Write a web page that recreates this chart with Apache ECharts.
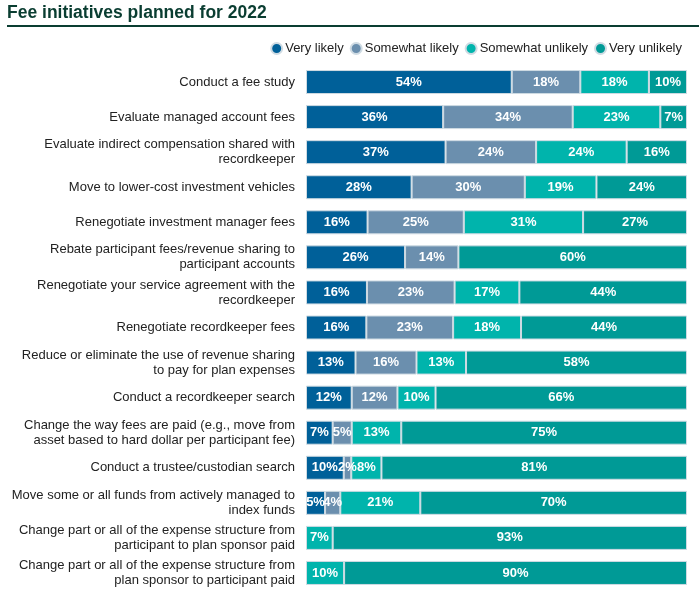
<!DOCTYPE html>
<html>
<head>
<meta charset="utf-8">
<script src="https://cdn.jsdelivr.net/npm/echarts@6/dist/echarts.min.js"></script>
<style>
html,body{margin:0;padding:0;background:#fff;}
#chart{width:699px;height:591px;}
</style>
</head>
<body>
<div id="chart"></div>
<script>
const categories = [
  "Conduct a fee study",
  "Evaluate managed account fees",
  "Evaluate indirect compensation shared with\nrecordkeeper",
  "Move to lower-cost investment vehicles",
  "Renegotiate investment manager fees",
  "Rebate participant fees/revenue sharing to\nparticipant accounts",
  "Renegotiate your service agreement with the\nrecordkeeper",
  "Renegotiate recordkeeper fees",
  "Reduce or eliminate the use of revenue sharing\nto pay for plan expenses",
  "Conduct a recordkeeper search",
  "Change the way fees are paid (e.g., move from\nasset based to hard dollar per participant fee)",
  "Conduct a trustee/custodian search",
  "Move some or all funds from actively managed to\nindex funds",
  "Change part or all of the expense structure from\nparticipant to plan sponsor paid",
  "Change part or all of the expense structure from\nplan sponsor to participant paid"
];
const seriesNames = ["Very likely", "Somewhat likely", "Somewhat unlikely", "Very unlikely"];
const veryLikely       = [54, 36, 37, 28, 16, 26, 16, 16, 13, 12, 7, 10, 5, 0, 0];
const somewhatLikely   = [18, 34, 24, 30, 25, 14, 23, 23, 16, 12, 5, 2, 4, 0, 0];
const somewhatUnlikely = [18, 23, 24, 19, 31, 0, 17, 18, 13, 10, 13, 8, 21, 7, 10];
const veryUnlikely     = [10, 7, 16, 24, 27, 60, 44, 44, 58, 66, 75, 81, 70, 93, 90];
const colors = ["#006099", "#6b8fae", "#00b4ac", "#009a96"];

const FONT = 'Liberation Sans, Arial, sans-serif';
const raw = [veryLikely, somewhatLikely, somewhatUnlikely, veryUnlikely];
const totals = categories.map((c, i) => raw.reduce((s, arr) => s + arr[i], 0));

const series = raw.map((arr, k) => ({
  name: seriesNames[k],
  type: 'bar',
  stack: 'total',
  barWidth: 24,
  itemStyle: { color: colors[k], borderColor: '#cfdbe3', borderWidth: 1 },
  label: {
    show: true,
    position: 'inside',
    color: '#fff',
    fontWeight: 'bold',
    fontSize: 13,
    fontFamily: FONT,
    formatter: p => p.data.raw > 0 ? p.data.raw + '%' : ''
  },
  emphasis: { disabled: true },
  data: arr.map((v, i) => v > 0
    ? { value: v / totals[i] * 100, raw: v }
    : { value: 0, raw: 0, itemStyle: { borderWidth: 0, opacity: 0 } })
}));

const chart = echarts.init(document.getElementById('chart'));
chart.setOption({
  animation: false,
  title: {
    text: 'Fee initiatives planned for 2022',
    left: 7, top: 4, padding: 0,
    textStyle: { fontSize: 17.5, fontWeight: 'bold', color: '#0a3d31', fontFamily: FONT }
  },
  graphic: [{
    type: 'rect', shape: { x: 7, y: 25, width: 692, height: 2 }, style: { fill: '#0a3d31' }
  }],
  legend: {
    right: 12, top: 37,
    icon: 'circle', itemWidth: 11, itemHeight: 11, itemGap: 6,
    textStyle: { fontSize: 13, color: '#222', fontFamily: FONT, padding: [0, 0, 0, -2] },
    data: seriesNames
  },
  grid: { left: 306, right: 12, top: 64.5, bottom: 0.5, containLabel: false },
  xAxis: { type: 'value', min: 0, max: 100, show: false },
  yAxis: {
    type: 'category', inverse: true, data: categories,
    axisLine: { show: false }, axisTick: { show: false },
    axisLabel: { margin: 11, fontSize: 13, color: '#222', lineHeight: 15, fontFamily: FONT }
  },
  series: series
});
</script>
</body>
</html>
